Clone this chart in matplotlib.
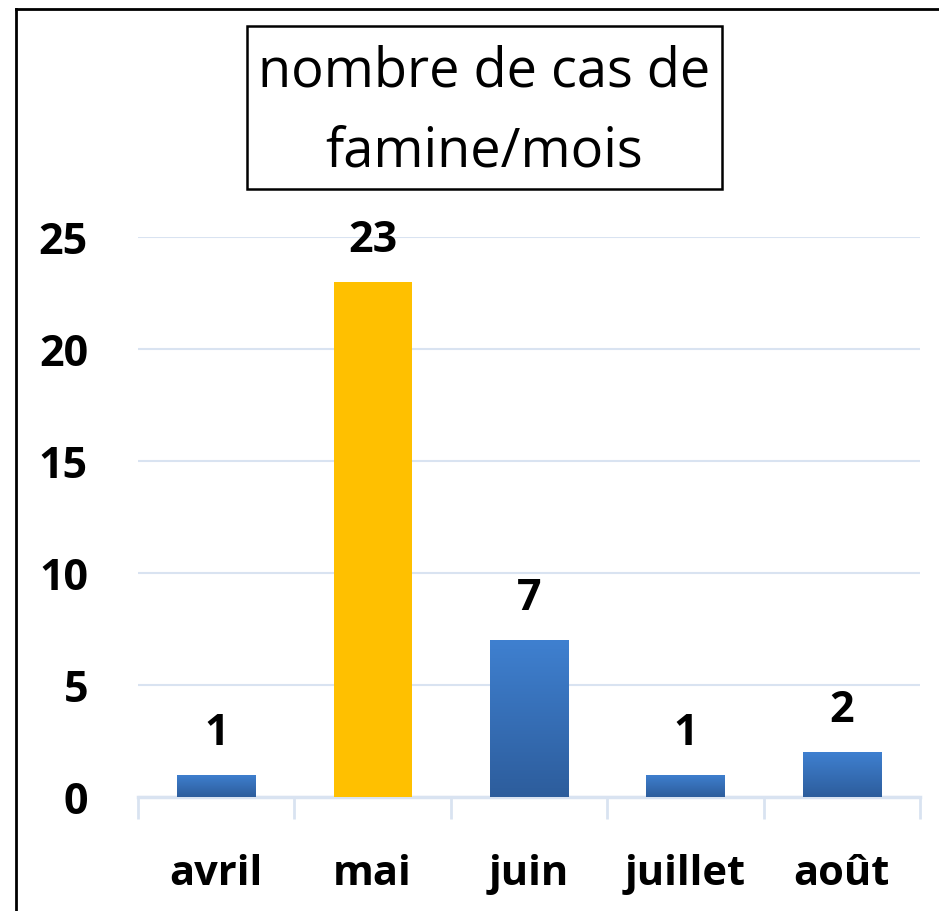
import numpy as np
import matplotlib
matplotlib.use("Agg")
import matplotlib.pyplot as plt
from matplotlib.patches import Rectangle
from matplotlib.lines import Line2D
from matplotlib.colors import LinearSegmentedColormap

categories = ["avril", "mai", "juin", "juillet", "août"]
values = [1, 23, 7, 1, 2]
highlight = "mai"
title = "nombre de cas de\nfamine/mois"
yticks = [0, 5, 10, 15, 20, 25]

W, H = 939, 912
fig = plt.figure(figsize=(W / 100, H / 100), dpi=100)
ax = fig.add_axes([138 / W, 1 - 798 / H, (920 - 138) / W, (798 - 238) / H])

FONT = "Open Sans"
grid_c = "#d9e3f1"

x = np.arange(len(categories))
bars = ax.bar(x, values, width=0.5, color="none", zorder=3)
ax.set_xlim(-0.5, len(categories) - 0.5)
ax.set_ylim(0, 25)

cmap = LinearSegmentedColormap.from_list("blu", ["#2d5d9c", "#3f80d0"])
grad = np.linspace(0, 1, 256).reshape(-1, 1)
for b, cat, v in zip(bars, categories, values):
    x0, w, h = b.get_x(), b.get_width(), b.get_height()
    if cat == highlight:
        b.set_facecolor("#ffc000")
    else:
        im = ax.imshow(grad, cmap=cmap, origin="lower", aspect="auto",
                       extent=[x0, x0 + w, 0, h], zorder=3)
        im.set_clip_path(b)
    ax.annotate(str(v), (x0 + w / 2, h), xytext=(0, 15), textcoords="offset points",
                ha="center", va="bottom", fontsize=31, fontweight="bold",
                family=FONT, color="black")

ax.set_yticks(yticks)
ax.set_yticklabels([str(t) for t in yticks], fontsize=31, fontweight="bold", family=FONT)
ax.yaxis.grid(True, color=grid_c, linewidth=1.5, zorder=0)
ax.set_axisbelow(True)
ax.tick_params(axis="y", length=0, pad=36)

ax.set_xticks(x)
ax.set_xticklabels(categories, fontsize=30, fontweight="bold", family=FONT)
ax.tick_params(axis="x", length=0, pad=40)
ax.set_xticks(np.arange(len(categories) + 1) - 0.5, minor=True)
ax.tick_params(axis="x", which="minor", length=16, width=2, color=grid_c, direction="out")

for s in ["top", "right", "left"]:
    ax.spines[s].set_visible(False)
ax.spines["bottom"].set_color(grid_c)
ax.spines["bottom"].set_linewidth(2.5)

# title box
fig.add_artist(Rectangle((247 / W, 1 - 190 / H), (722 - 247) / W, (190 - 27) / H,
                         transform=fig.transFigure, fill=False, edgecolor="black", linewidth=1.8))
fig.text(484 / W, 1 - 112 / H, title, ha="center", va="center", fontsize=39,
         family=FONT, linespacing=1.58)

# outer border (left & top visible)
fig.add_artist(Line2D([16 / W, 16 / W], [0, 1 - 10 / H], transform=fig.transFigure,
                      color="black", linewidth=2))
fig.add_artist(Line2D([16 / W, 1], [1 - 10 / H, 1 - 10 / H], transform=fig.transFigure,
                      color="black", linewidth=2))

fig.savefig("out.png", dpi=100)
